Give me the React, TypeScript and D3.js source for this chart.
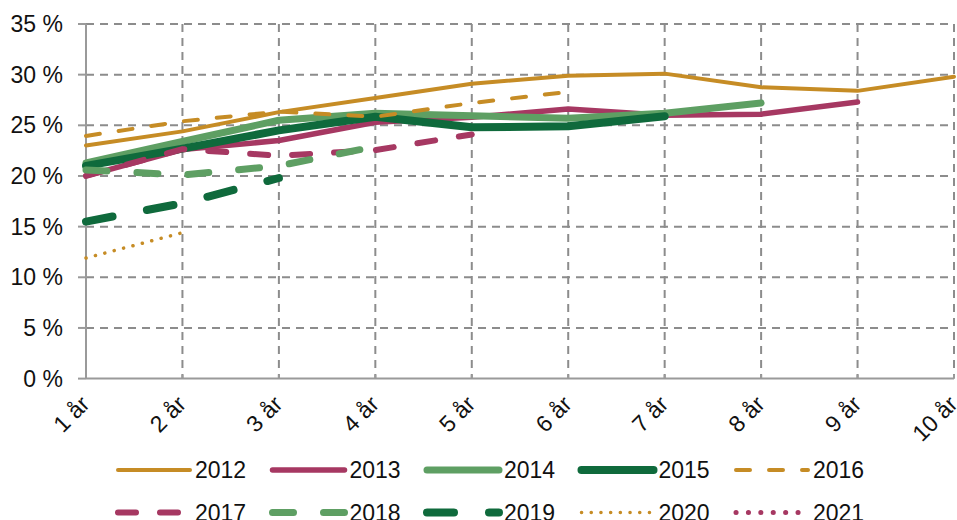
import React from "react";
import * as d3 from "d3";

const categories = ["1 år", "2 år", "3 år", "4 år", "5 år", "6 år", "7 år", "8 år", "9 år", "10 år"];
const yTicks = [0, 5, 10, 15, 20, 25, 30, 35];

const s2012 = [23.0, 24.4, 26.3, 27.7, 29.1, 29.9, 30.1, 28.75, 28.4, 29.8];
const s2013 = [20.0, 22.6, 23.5, 25.3, 25.8, 26.6, 26.0, 26.1, 27.3];
const s2014 = [21.3, 23.4, 25.5, 26.2, 25.95, 25.7, 26.2, 27.2];
const s2015 = [21.0, 22.7, 24.5, 25.85, 24.8, 24.9, 25.9];
const s2016 = [23.95, 25.4, 26.35, 25.85, 27.2, 28.3];
const s2017 = [20.0, 22.65, 22.0, 22.55, 24.1];
const s2018 = [20.6, 20.1, 21.0, 22.9];
const s2019 = [15.5, 17.3, 19.8];
const s2020 = [11.9, 14.4];
const s2021 = [20.0];

const gold = "#C68C25";
const plum = "#A63862";
const lightGreen = "#5E9F63";
const darkGreen = "#0F6A3C";

const series = [
  { name: "2012", values: s2012, color: gold, width: 4, dash: "" },
  { name: "2013", values: s2013, color: plum, width: 5.5, dash: "" },
  { name: "2014", values: s2014, color: lightGreen, width: 7, dash: "" },
  { name: "2015", values: s2015, color: darkGreen, width: 8, dash: "" },
  { name: "2016", values: s2016, color: gold, width: 4, dash: "14 19" },
  { name: "2017", values: s2017, color: plum, width: 6, dash: "18 24" },
  { name: "2018", values: s2018, color: lightGreen, width: 7, dash: "21 30" },
  { name: "2019", values: s2019, color: darkGreen, width: 8, dash: "27 35" },
  { name: "2020", values: s2020, color: gold, width: 3.5, dash: "0.1 9.6" },
  { name: "2021", values: s2021, color: plum, width: 5, dash: "0.1 12.3" },
];

const W = 957;
const H = 520;
const left = 86;
const right = 954;
const top = 24;
const bottom = 378.6;

export default function App() {
  const x = d3.scalePoint<string>().domain(categories).range([left, right]);
  const y = d3.scaleLinear().domain([0, 35]).range([bottom, top]);
  const line = d3
    .line<number>()
    .x((_, i) => x(categories[i]) as number)
    .y((d) => y(d));

  const font = "Liberation Sans, Arial, sans-serif";
  const grid = "#8C8C8C";

  return (
    <svg
      width={W}
      height={H}
      style={{ position: "absolute", left: 0, top: 0 }}
      fontFamily={font}
    >
      <rect width={W} height={H} fill="#fff" />
      {/* horizontal grid */}
      {yTicks.slice(1).map((t) => (
        <line
          key={"h" + t}
          x1={left}
          x2={right}
          y1={y(t)}
          y2={y(t)}
          stroke={grid}
          strokeWidth={2}
          strokeDasharray="8 6"
        />
      ))}
      {/* vertical grid */}
      {categories.slice(1).map((c) => (
        <line
          key={"v" + c}
          x1={x(c)}
          x2={x(c)}
          y1={top}
          y2={bottom}
          stroke={grid}
          strokeWidth={2}
          strokeDasharray="8 6"
        />
      ))}
      {/* y ticks and labels */}
      {yTicks.map((t) => (
        <g key={"yt" + t}>
          <line x1={left - 8} x2={left} y1={y(t)} y2={y(t)} stroke="#9A9A9A" strokeWidth={2} />
          <text
            x={63}
            y={y(t)}
            dy="0.35em"
            textAnchor="end"
            fontSize={23}
            fill="#111"
          >
            {t} %
          </text>
        </g>
      ))}
      {/* axes */}
      <line x1={left} x2={left} y1={top} y2={bottom} stroke="#9A9A9A" strokeWidth={2} />
      <line x1={left} x2={right} y1={bottom} y2={bottom} stroke="#9A9A9A" strokeWidth={2} />
      {categories.map((c) => (
        <g key={"xt" + c}>
          <line x1={x(c)} x2={x(c)} y1={bottom - 4} y2={bottom} stroke="#9A9A9A" strokeWidth={2} />
          <text
            transform={`translate(${(x(c) as number) + 5},${bottom + 27}) rotate(-45)`}
            textAnchor="end"
            fontSize={23}
            fill="#111"
          >
            {c}
          </text>
        </g>
      ))}
      {/* series */}
      {series.map((s) => (
        <path
          key={s.name}
          d={line(s.values) || ""}
          fill="none"
          stroke={s.color}
          strokeWidth={s.width}
          strokeDasharray={s.dash || undefined}
          strokeLinecap="round"
          strokeLinejoin="round"
        />
      ))}
      {/* legend */}
      {series.map((s, i) => {
        const col = i % 5;
        const row = Math.floor(i / 5);
        const lx = 118 + col * 154.5;
        const ly = 470 + row * 42.5;
        return (
          <g key={"lg" + s.name}>
            <line
              x1={lx}
              x2={lx + 72}
              y1={ly}
              y2={ly}
              stroke={s.color}
              strokeWidth={s.width}
              strokeDasharray={s.dash || undefined}
              strokeLinecap="round"
            />
            <text x={lx + 77} y={ly} dy="0.36em" fontSize={23} fill="#111">
              {s.name}
            </text>
          </g>
        );
      })}
    </svg>
  );
}
